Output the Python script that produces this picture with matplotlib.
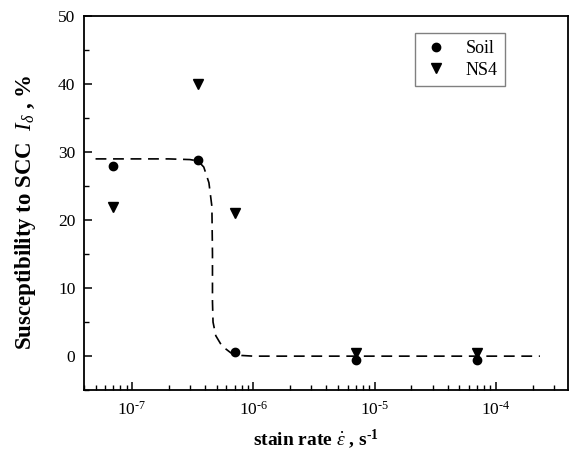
import matplotlib
matplotlib.use('Agg')
import matplotlib.pyplot as plt
from matplotlib.ticker import FuncFormatter
import numpy as np

plt.rcParams['font.family'] = ['Liberation Serif', 'DejaVu Serif']
plt.rcParams['mathtext.fontset'] = 'custom'
plt.rcParams['mathtext.rm'] = 'Liberation Serif'
plt.rcParams['mathtext.it'] = 'Liberation Serif:italic'
plt.rcParams['mathtext.bf'] = 'Liberation Serif:bold'
plt.rcParams['axes.unicode_minus'] = False

# 数据
rate = [7e-8, 3.5e-7, 7e-7, 7e-6, 7e-5]
soil = [28.0, 28.9, 0.6, -0.6, -0.6]
ns4 = [22.0, 40.0, 21.0, 0.5, 0.5]

# 拟合曲线
fit_x = [5e-8, 1e-7, 2e-7, 3e-7, 3.5e-7, 3.9e-7, 4.3e-7, 4.55e-7, 4.6e-7, 4.6e-7,
         4.65e-7, 4.9e-7, 5.5e-7, 6.5e-7, 8e-7, 1e-6, 1e-5, 1e-4, 2.3e-4]
fit_y = [29.0, 29.0, 29.0, 28.9, 28.7, 27.8, 25.5, 22.0, 15.0, 8.0,
         5.0, 3.0, 1.5, 0.5, 0.1, 0.0, 0.0, 0.0, 0.0]

fig = plt.figure(figsize=(5.7, 4.59), dpi=100)
ax = fig.add_axes([0.147, 0.150, 0.849, 0.815])

ax.plot(fit_x, fit_y, linestyle=(0, (6.5, 4)), color='black', linewidth=1.2)
ax.plot(rate, soil, 'o', color='black', markersize=6, label='Soil')
ax.plot(rate, ns4, 'v', color='black', markersize=6.5, label='NS4')

ax.set_xscale('log')
ax.set_xlim(4e-8, 3.9e-4)
ax.set_ylim(-5, 50)
ax.set_yticks([0, 10, 20, 30, 40, 50])
ax.set_yticks([-5, 5, 15, 25, 35, 45], minor=True)

def log_fmt(v, pos):
    e = int(round(np.log10(v)))
    return r'$\mathregular{10^{\text{-}%d}}$' % abs(e)

ax.xaxis.set_major_formatter(FuncFormatter(log_fmt))

ax.tick_params(which='both', direction='in', top=False, right=False, labelsize=12.5)
ax.tick_params(which='major', length=6, width=1.1)
ax.tick_params(which='minor', length=3.5, width=1.0)
ax.tick_params(axis='y', which='both', pad=6)
ax.tick_params(axis='x', which='both', pad=8)
for s in ax.spines.values():
    s.set_linewidth(1.3)

ax.set_xlabel(r'stain rate $\dot{\varepsilon}$ , s$^{\mathbf{\text{-}1}}$', fontsize=14, fontweight='bold')
ax.xaxis.set_label_coords(0.479, -0.10)
ax.set_ylabel(r'Susceptibility to SCC  $I_\delta$ , %', fontsize=16.5, fontweight='bold')
ax.yaxis.set_label_coords(-0.094, 0.476)

ax.legend(loc='upper left', bbox_to_anchor=(0.684, 0.955), fontsize=13,
          frameon=True, fancybox=False, edgecolor='gray', framealpha=1,
          handletextpad=0.8, borderpad=0.4, labelspacing=0.25, handlelength=1.6,
          borderaxespad=0)

plt.savefig('out.png', dpi=100)
